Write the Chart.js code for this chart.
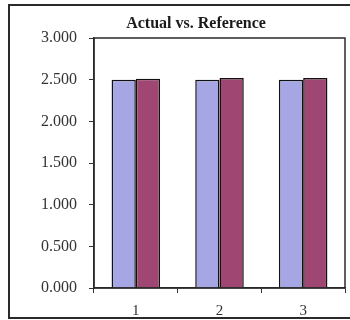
<!DOCTYPE html>
<html>
<head>
<meta charset="utf-8">
<script src="https://cdn.jsdelivr.net/npm/chart.js@4.4.1/dist/chart.umd.min.js"></script>
<style>
  html, body { margin: 0; padding: 0; background: #ffffff; }
  #wrap { width: 350px; height: 320px; }
</style>
</head>
<body>
<div id="wrap"><canvas id="c" width="350" height="320"></canvas></div>
<script>
// Category labels along the x axis
const categories = ['1', '2', '3'];
// Measured ("Actual") and target ("Reference") values per run
const actualValues = [2.50, 2.50, 2.50];
const referenceValues = [2.51, 2.52, 2.52];
// Value axis range and step
const yMin = 0;
const yMax = 3;
const yStep = 0.5;
// Chart heading
const chartTitle = 'Actual vs. Reference';

const serif = '"Liberation Serif", "Times New Roman", serif';

// Outer chart frame, heading and plot-area box
const framePlugin = {
  id: 'frames',
  beforeDraw(chart) {
    const ctx = chart.ctx;
    ctx.save();
    ctx.fillStyle = '#ffffff';
    ctx.fillRect(0, 0, chart.width, chart.height);
    ctx.strokeStyle = '#2a2a2a';
    ctx.lineWidth = 2;
    ctx.strokeRect(9, 5, 346, 313);
    ctx.fillStyle = '#1a1a1a';
    ctx.font = 'bold 16px ' + serif;
    ctx.textAlign = 'center';
    ctx.textBaseline = 'alphabetic';
    ctx.fillText(chartTitle, 196, 28);
    ctx.restore();
  },
  afterDatasetsDraw(chart) {
    const a = chart.chartArea;
    const ctx = chart.ctx;
    ctx.save();
    ctx.strokeStyle = '#2a2a2a';
    ctx.lineWidth = 1.5;
    ctx.strokeRect(a.left, a.top, a.right - a.left, a.bottom - a.top);
    ctx.restore();
  }
};

new Chart(document.getElementById('c'), {
  type: 'bar',
  data: {
    labels: categories,
    datasets: [
      {
        label: 'Actual',
        data: actualValues,
        backgroundColor: '#a6a6e4',
        borderColor: '#111111',
        borderWidth: 1.5,
        categoryPercentage: 0.58,
        barPercentage: 1.0
      },
      {
        label: 'Reference',
        data: referenceValues,
        backgroundColor: '#a04672',
        borderColor: '#111111',
        borderWidth: 1.5,
        categoryPercentage: 0.58,
        barPercentage: 1.0
      }
    ]
  },
  options: {
    responsive: false,
    animation: false,
    layout: { padding: { left: 0, right: 5, top: 38, bottom: 0 } },
    plugins: {
      legend: { display: false },
      tooltip: { enabled: false },
      title: { display: false }
    },
    scales: {
      x: {
        grid: {
          display: true,
          offset: true,
          drawOnChartArea: false,
          drawTicks: true,
          tickLength: 5,
          color: '#333333',
          lineWidth: 1
        },
        border: { display: true, color: '#2a2a2a', width: 1.5 },
        ticks: {
          color: '#333333',
          font: { family: serif, size: 15 },
          padding: 9
        },
        afterFit(scale) { scale.height = 32; }
      },
      y: {
        min: yMin,
        max: yMax,
        grid: {
          display: true,
          drawOnChartArea: false,
          drawTicks: true,
          tickLength: 5,
          color: '#333333'
        },
        border: { display: true, color: '#2a2a2a', width: 1.5 },
        ticks: {
          stepSize: yStep,
          color: '#333333',
          font: { family: serif, size: 16 },
          padding: 12,
          callback: (v) => Number(v).toFixed(3)
        },
        afterFit(scale) { scale.width = 94; }
      }
    }
  },
  plugins: [framePlugin]
});
</script>
</body>
</html>
